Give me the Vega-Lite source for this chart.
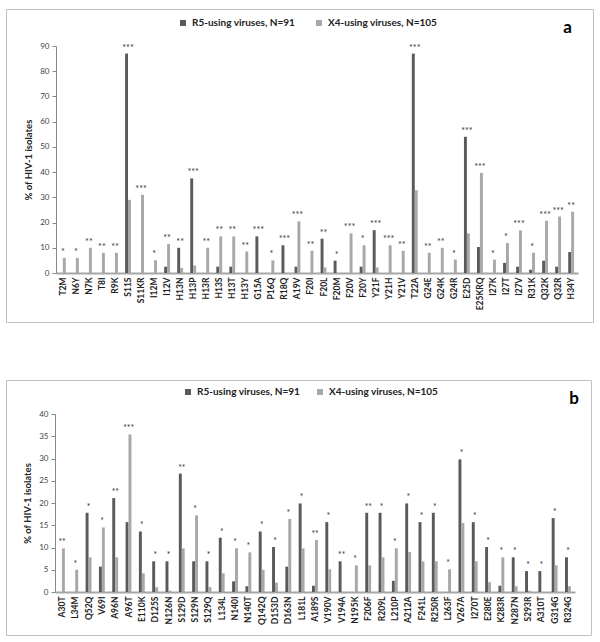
{
  "$schema": "https://vega.github.io/schema/vega-lite/v6.json",
  "padding": {"left": 5, "top": 8, "right": 0, "bottom": 0},
  "bounds": "flush",
  "spacing": 58,
  "config": {
    "font": "Lato",
    "view": {"stroke": "#bfbfbf", "strokeWidth": 1},
    "axis": {"grid": false, "labelFont": "Lato", "titleFont": "Lato"},
    "legend": {"labelFont": "Lato"},
    "text": {"color": "#333333", "fill": "#333333"}
  },
  "datasets": {
    "a": [
      {"m": "T2M", "R5": 0, "X4": 6, "s": "*"},
      {"m": "N6Y", "R5": 0, "X4": 6, "s": "*"},
      {"m": "N7K", "R5": 0, "X4": 10, "s": "**"},
      {"m": "T8I", "R5": 0, "X4": 8, "s": "**"},
      {"m": "R9K", "R5": 0, "X4": 8, "s": "**"},
      {"m": "S11S", "R5": 87, "X4": 29, "s": "***"},
      {"m": "S11KR", "R5": 0, "X4": 31, "s": "***"},
      {"m": "I12M", "R5": 0, "X4": 5, "s": "*"},
      {"m": "I12V", "R5": 2.5, "X4": 11.5, "s": "**"},
      {"m": "H13N", "R5": 10, "X4": 2, "s": "**"},
      {"m": "H13P", "R5": 37.5, "X4": 3, "s": "***"},
      {"m": "H13R", "R5": 0, "X4": 10, "s": "**"},
      {"m": "H13S", "R5": 2.5, "X4": 14.5, "s": "**"},
      {"m": "H13T", "R5": 2.5, "X4": 14.5, "s": "**"},
      {"m": "H13Y", "R5": 0, "X4": 8.5, "s": "**"},
      {"m": "G15A", "R5": 14.5, "X4": 0, "s": "***"},
      {"m": "P16Q", "R5": 0, "X4": 5, "s": "*"},
      {"m": "R18Q", "R5": 11, "X4": 0, "s": "***"},
      {"m": "A19V", "R5": 2.5, "X4": 20.5, "s": "***"},
      {"m": "F20I", "R5": 0, "X4": 8.8, "s": "**"},
      {"m": "F20L", "R5": 13.6, "X4": 2.2, "s": "**"},
      {"m": "F20M", "R5": 4.9, "X4": 0, "s": "*"},
      {"m": "F20V", "R5": 0, "X4": 15.7, "s": "***"},
      {"m": "F20Y", "R5": 2.5, "X4": 11, "s": "*"},
      {"m": "Y21F", "R5": 17, "X4": 2.2, "s": "***"},
      {"m": "Y21H", "R5": 0, "X4": 11, "s": "***"},
      {"m": "Y21V", "R5": 0, "X4": 8.8, "s": "**"},
      {"m": "T22A", "R5": 87, "X4": 32.8, "s": "***"},
      {"m": "G24E", "R5": 0, "X4": 8, "s": "**"},
      {"m": "G24K", "R5": 0, "X4": 10, "s": "**"},
      {"m": "G24R", "R5": 0, "X4": 5.3, "s": "*"},
      {"m": "E25D", "R5": 54, "X4": 15.7, "s": "***"},
      {"m": "E25KRQ", "R5": 10.3, "X4": 39.7, "s": "***"},
      {"m": "I27K", "R5": 0, "X4": 5.3, "s": "*"},
      {"m": "I27T", "R5": 4, "X4": 11.9, "s": "*"},
      {"m": "I27V", "R5": 2.5, "X4": 16.9, "s": "***"},
      {"m": "R31K", "R5": 1.3, "X4": 8, "s": "*"},
      {"m": "Q32K", "R5": 4.9, "X4": 20.7, "s": "***"},
      {"m": "Q32R", "R5": 2.5, "X4": 22.4, "s": "***"},
      {"m": "H34Y", "R5": 8.3, "X4": 24.3, "s": "**"}
    ],
    "b": [
      {"m": "A30T", "R5": 0, "X4": 9.8, "s": "**"},
      {"m": "L34M", "R5": 0, "X4": 5, "s": "*"},
      {"m": "Q52Q", "R5": 17.8, "X4": 7.8, "s": "*"},
      {"m": "V69I", "R5": 5.7, "X4": 14.5, "s": "*"},
      {"m": "A96N", "R5": 21.1, "X4": 7.8, "s": "**"},
      {"m": "A96T", "R5": 15.7, "X4": 35.4, "s": "***"},
      {"m": "E110K", "R5": 13.6, "X4": 4.2, "s": "*"},
      {"m": "D125S", "R5": 6.9, "X4": 1.1, "s": "*"},
      {"m": "N126N", "R5": 6.9, "X4": 0.3, "s": "*"},
      {"m": "S129D", "R5": 26.6, "X4": 9.8, "s": "**"},
      {"m": "S129N", "R5": 6.9, "X4": 17.2, "s": "*"},
      {"m": "S129Q", "R5": 6.9, "X4": 1.1, "s": "*"},
      {"m": "L134L", "R5": 12.2, "X4": 4.2, "s": "*"},
      {"m": "N140I", "R5": 2.4, "X4": 9.8, "s": "*"},
      {"m": "N140T", "R5": 1.3, "X4": 8.9, "s": "*"},
      {"m": "Q142Q", "R5": 13.6, "X4": 5, "s": "*"},
      {"m": "D153D", "R5": 10.1, "X4": 2.1, "s": "*"},
      {"m": "D163N", "R5": 5.7, "X4": 16.4, "s": "*"},
      {"m": "L181L", "R5": 19.9, "X4": 9.8, "s": "*"},
      {"m": "A189S", "R5": 1.4, "X4": 11.7, "s": "**"},
      {"m": "V190V", "R5": 15.7, "X4": 5.1, "s": "*"},
      {"m": "V194A", "R5": 6.9, "X4": 0, "s": "**"},
      {"m": "N195K", "R5": 0, "X4": 6, "s": "*"},
      {"m": "F206F", "R5": 17.8, "X4": 6, "s": "**"},
      {"m": "R209L", "R5": 17.8, "X4": 7.8, "s": "*"},
      {"m": "L210P", "R5": 2.5, "X4": 9.8, "s": "*"},
      {"m": "A212A", "R5": 19.9, "X4": 9, "s": "*"},
      {"m": "F241L", "R5": 15.7, "X4": 6.9, "s": "*"},
      {"m": "R250R", "R5": 17.8, "X4": 6.9, "s": "*"},
      {"m": "L263F", "R5": 0, "X4": 5.1, "s": "*"},
      {"m": "V267A", "R5": 29.8, "X4": 15.5, "s": "*"},
      {"m": "I270T", "R5": 15.7, "X4": 6.9, "s": "*"},
      {"m": "E280E", "R5": 10.1, "X4": 2.2, "s": "*"},
      {"m": "K283R", "R5": 1.4, "X4": 7.8, "s": "*"},
      {"m": "N287N", "R5": 7.8, "X4": 1.3, "s": "*"},
      {"m": "S293R", "R5": 4.7, "X4": 0.3, "s": "*"},
      {"m": "A310T", "R5": 4.7, "X4": 0, "s": "*"},
      {"m": "G314G", "R5": 16.6, "X4": 6, "s": "*"},
      {"m": "R324G", "R5": 7.8, "X4": 1.3, "s": "*"}
    ]
  },
  "resolve": {"scale": {"color": "independent", "x": "independent", "y": "independent"}, "legend": {"color": "independent"}},
  "vconcat": [
    {
      "width": 587,
      "height": 313,
      "data": {"name": "a"},
      "transform": [{"fold": ["R5", "X4"], "as": ["series", "value"]}],
      "title": {"text": "a", "anchor": "end", "fontSize": 17, "fontWeight": "bold", "font": "Lato", "color": "#000", "dx": -21, "dy": 32},
      "encoding": {
        "x": {"field": "m", "type": "nominal", "sort": null,
          "scale": {"range": [50, 572], "paddingInner": 0.55, "paddingOuter": 0.3},
          "axis": {"title": null, "labelAngle": -90, "labelFontSize": 8.5, "labelFontWeight": "bold", "labelColor": "#222", "ticks": false, "offset": -49, "labelPadding": 4, "domainColor": "#a6a6a6", "domainWidth": 2}},
        "y": {"field": "value", "type": "quantitative",
          "scale": {"domain": [0, 90], "range": [264, 37], "nice": false},
          "axis": {"title": "% of HIV-1 isolates", "titleFontSize": 9.5, "titleFontWeight": "bold", "titleColor": "#222", "titlePadding": 6, "values": [0,10,20,30,40,50,60,70,80,90], "labelOverlap": false, "labelFontSize": 8, "labelColor": "#444", "offset": -50, "domainColor": "#888", "tickColor": "#888", "tickSize": 4, "labelPadding": 3}}
      },
      "layer": [
        {
          "mark": {"type": "bar"},
          "encoding": {
            "xOffset": {"field": "series", "type": "nominal", "scale": {"paddingInner": 0}},
            "color": {"field": "series", "type": "nominal",
              "scale": {"domain": ["R5", "X4"], "range": ["#5a5a5a", "#a8a8a8"]},
              "legend": {"title": null, "orient": "none", "legendX": 172, "legendY": 9, "direction": "horizontal", "columns": 2, "columnPadding": 18, "symbolType": "square", "symbolSize": 36, "symbolStrokeWidth": 0, "labelFontSize": 10, "labelFontWeight": "bold", "labelColor": "#222", "labelLimit": 200,
                "labelExpr": "datum.label == 'R5' ? 'R5-using viruses, N=91' : 'X4-using viruses, N=105'"}}
          }
        },
        {
          "mark": {"type": "text", "fontSize": 9, "color": "#333333", "fill": "#333333", "dy": -3, "baseline": "alphabetic"},
          "encoding": {
            "y": {"aggregate": "max", "field": "value", "type": "quantitative"},
            "text": {"field": "s", "type": "nominal"}
          }
        }
      ]
    },
    {
      "width": 585,
      "height": 255,
      "data": {"name": "b"},
      "transform": [{"fold": ["R5", "X4"], "as": ["series", "value"]}],
      "title": {"text": "b", "anchor": "end", "fontSize": 17, "fontWeight": "bold", "font": "Lato", "color": "#000", "dx": -12, "dy": 32},
      "encoding": {
        "x": {"field": "m", "type": "nominal", "sort": null,
          "scale": {"range": [49, 569], "paddingInner": 0.55, "paddingOuter": 0.3},
          "axis": {"title": null, "labelAngle": -90, "labelFontSize": 8.5, "labelFontWeight": "bold", "labelColor": "#222", "ticks": false, "offset": -43, "labelPadding": 4, "domainColor": "#a6a6a6", "domainWidth": 2}},
        "y": {"field": "value", "type": "quantitative",
          "scale": {"domain": [0, 40], "range": [212, 34], "nice": false},
          "axis": {"title": "% of HIV-1 isolates", "titleFontSize": 9.5, "titleFontWeight": "bold", "titleColor": "#222", "titlePadding": 6, "values": [0,5,10,15,20,25,30,35,40], "labelOverlap": false, "labelFontSize": 8, "labelColor": "#444", "offset": -49, "domainColor": "#888", "tickColor": "#888", "tickSize": 4, "labelPadding": 3}}
      },
      "layer": [
        {
          "mark": {"type": "bar"},
          "encoding": {
            "xOffset": {"field": "series", "type": "nominal", "scale": {"paddingInner": 0}},
            "color": {"field": "series", "type": "nominal",
              "scale": {"domain": ["R5", "X4"], "range": ["#5a5a5a", "#a8a8a8"]},
              "legend": {"title": null, "orient": "none", "legendX": 177, "legendY": 7, "direction": "horizontal", "columns": 2, "columnPadding": 14, "symbolType": "square", "symbolSize": 36, "symbolStrokeWidth": 0, "labelFontSize": 10, "labelFontWeight": "bold", "labelColor": "#222", "labelLimit": 200,
                "labelExpr": "datum.label == 'R5' ? 'R5-using viruses, N=91' : 'X4-using viruses, N=105'"}}
          }
        },
        {
          "mark": {"type": "text", "fontSize": 8.5, "color": "#333333", "fill": "#333333", "dy": -3, "baseline": "alphabetic"},
          "encoding": {
            "y": {"aggregate": "max", "field": "value", "type": "quantitative"},
            "text": {"field": "s", "type": "nominal"}
          }
        }
      ]
    }
  ]
}
